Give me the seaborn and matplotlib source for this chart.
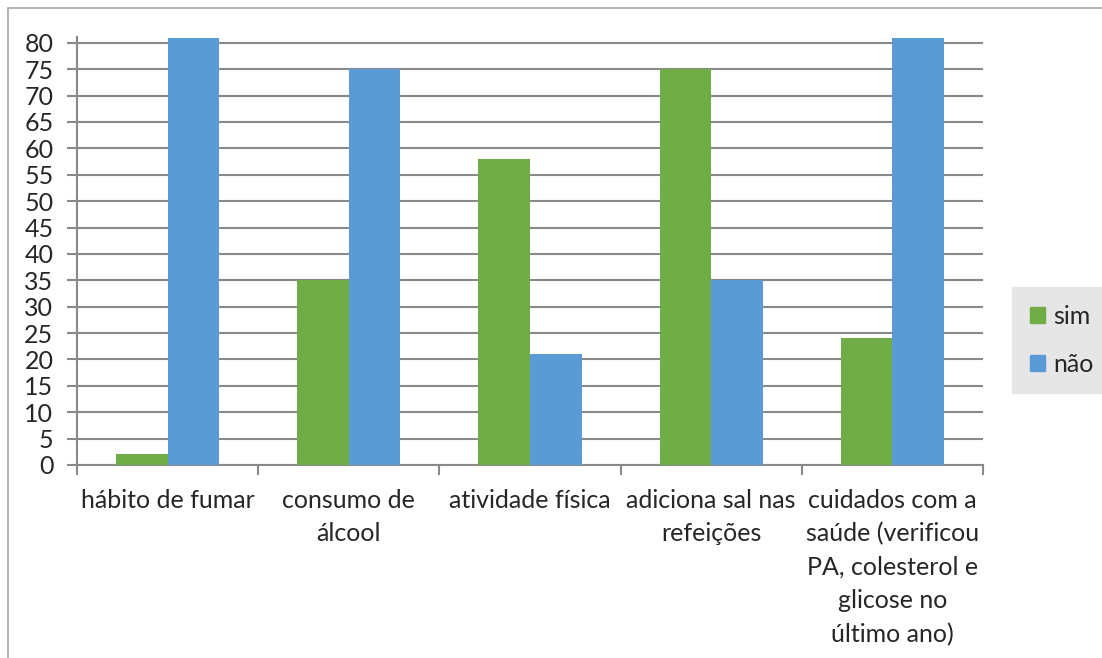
import matplotlib
matplotlib.use("Agg")
import matplotlib.pyplot as plt
from matplotlib.lines import Line2D
import seaborn as sns
import pandas as pd

categorias = ["hábito de fumar", "consumo de\nálcool", "atividade física",
              "adiciona sal nas\nrefeições",
              "cuidados com a\nsaúde (verificou\nPA, colesterol e\nglicose no\núltimo ano)"]
sim = [2, 35, 58, 75, 24]
nao = [81, 75, 21, 35, 81]
series = ["sim", "não"]
cores = ["#70AD47", "#5B9BD5"]
yticks = list(range(0, 85, 5))

df = pd.DataFrame({
    "categoria": categorias * 2,
    "valor": sim + nao,
    "serie": ["sim"] * len(sim) + ["não"] * len(nao),
})

sns.set_style("white")
plt.rcParams["font.family"] = ["Lato", "DejaVu Sans"]

fig = plt.figure(figsize=(11.02, 6.58), dpi=100)
ax = fig.add_axes([77 / 1102, 1 - 465 / 658, (983 - 77) / 1102, (465 - 37) / 658])

sns.barplot(data=df, x="categoria", y="valor", hue="serie", hue_order=series,
            palette=cores, width=0.57, saturation=1, linewidth=0, ax=ax, zorder=3)

ax.set_ylim(0, 81.1)
ax.set_xlim(-0.5, len(categorias) - 0.5)
ax.set_yticks(yticks)
ax.yaxis.grid(True, color="#898989", linewidth=1.5, zorder=0)
ax.set_axisbelow(True)
for s in ["top", "right"]:
    ax.spines[s].set_visible(False)
for s in ["bottom", "left"]:
    ax.spines[s].set_color("#898989")
    ax.spines[s].set_linewidth(1.5)

# category separators on x axis
ax.set_xticks([i - 0.5 for i in range(len(categorias) + 1)], minor=True)
ax.set_xticks(range(len(categorias)))
ax.set_xticklabels(categorias, fontsize=18, linespacing=1.55, va="top")
ax.tick_params(axis="x", which="major", length=0, pad=17)
ax.tick_params(axis="x", which="minor", length=7, width=1.5, color="#898989", bottom=True)
ax.tick_params(axis="y", length=7, width=1.5, color="#898989", left=True,
               labelsize=18, pad=10)
ax.set_xlabel("")
ax.set_ylabel("")
ax.get_legend().remove()

handles = [plt.Rectangle((0, 0), 1, 1, color=c) for c in cores]
fig.legend(handles, series, loc="upper left", bbox_to_anchor=(1012 / 1102, 1 - 287 / 658),
           frameon=True, fontsize=18, handlelength=0.6, handleheight=0.6,
           handletextpad=0.35, labelspacing=1.0, borderpad=0.7, fancybox=False,
           facecolor="#E6E6E6", edgecolor="#E6E6E6", framealpha=1, borderaxespad=0)

# outer chart frame (partially visible)
fig.add_artist(Line2D([8 / 1102, 8 / 1102], [1 - 8 / 658, 0], color="#A6A6A6", linewidth=1.2))
fig.add_artist(Line2D([8 / 1102, 1], [1 - 8 / 658, 1 - 8 / 658], color="#A6A6A6", linewidth=1.2))

fig.savefig("out.png", dpi=100, facecolor="white")
